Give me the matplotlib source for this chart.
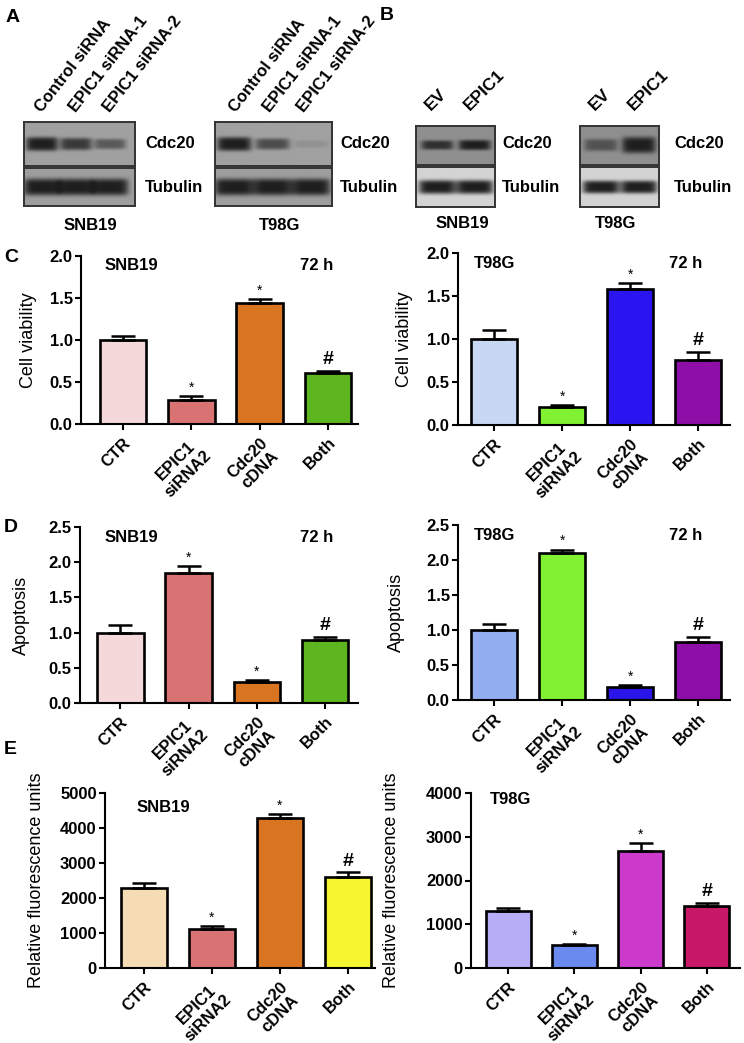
import numpy as np
import matplotlib
matplotlib.use('Agg')
import matplotlib.pyplot as plt

plt.rcParams['font.family'] = ['Liberation Sans', 'DejaVu Sans']

W, H = 744, 1043

# ---- data -------------------------------------------------------------
groups = ['CTR', 'EPIC1\nsiRNA2', 'Cdc20\ncDNA', 'Both']
marks = ['', '*', '*', '#']

via_snb19 = [1.00, 0.29, 1.44, 0.61]
via_snb19_err = [0.05, 0.04, 0.05, 0.02]
via_t98g = [1.00, 0.21, 1.58, 0.75]
via_t98g_err = [0.11, 0.02, 0.07, 0.10]

apo_snb19 = [1.00, 1.85, 0.30, 0.90]
apo_snb19_err = [0.11, 0.09, 0.03, 0.04]
apo_t98g = [1.00, 2.10, 0.18, 0.83]
apo_t98g_err = [0.08, 0.05, 0.03, 0.07]

rfu_snb19 = [2280, 1110, 4290, 2590]
rfu_snb19_err = [150, 90, 100, 140]
rfu_t98g = [1300, 520, 2670, 1420]
rfu_t98g_err = [70, 30, 190, 70]

col_c_snb19 = ['#f5d9da', '#d97272', '#d97420', '#5db51f']
col_c_t98g = ['#c8d8f2', '#80f232', '#2a14f0', '#8e0ea8']
col_d_t98g = ['#94aef2', '#80f232', '#2a14e8', '#8e0ea8']
col_e_snb19 = ['#f5dcb5', '#d97272', '#d97420', '#f5f530']
col_e_t98g = ['#b6aef7', '#6a8af0', '#cc3acc', '#c81868']

# western blot band intensities (relative darkness per lane)
lanes_a = ['Control siRNA', 'EPIC1 siRNA-1', 'EPIC1 siRNA-2']
lanes_b = ['EV', 'EPIC1']
cdc20_a_snb19 = [1.0, 0.8, 0.55]
cdc20_a_t98g = [1.0, 0.65, 0.12]
tub_a = [1.0, 1.0, 1.0]
cdc20_b_snb19 = [0.85, 1.0]
cdc20_b_t98g = [0.55, 1.0]
tub_b = [1.0, 1.0]

fig = plt.figure(figsize=(W / 100, H / 100), dpi=100)


def px_axes(x0, y0, x1, y1):
    return fig.add_axes([x0 / W, 1 - y1 / H, (x1 - x0) / W, (y1 - y0) / H])


def ftext(x, y, s, **kw):
    fig.text(x / W, 1 - y / H, s, **kw)


def draw_blot(box, lane_x, levels, bg, band_h, lane_w):
    x0, y0, x1, y1 = box
    ax = px_axes(x0, y0, x1, y1)
    xx = np.linspace(x0, x1, int(x1 - x0) * 3)
    yy = np.linspace(y0, y1, int(y1 - y0) * 3)
    X, Y = np.meshgrid(xx, yy)
    yc = (y0 + y1) / 2
    dark = np.zeros_like(X)
    for lx, a in zip(lane_x, levels):
        h = band_h * (0.45 + 0.55 * a)
        dark += a * np.exp(-((X - lx) / (lane_w / 2)) ** 6) * np.exp(-((Y - yc) / (h / 2)) ** 4)
    dark = np.clip(dark, 0, 1)
    img = bg - dark * (bg - 0.12)
    ax.imshow(img, cmap='gray', vmin=0, vmax=1, aspect='auto', interpolation='bilinear')
    ax.set_xticks([])
    ax.set_yticks([])
    for s in ax.spines.values():
        s.set_linewidth(1.4)
        s.set_color('#333333')


# ---- panel A / B blots -------------------------------------------------
blot_font = dict(fontsize=12, fontweight='bold', va='center')

draw_blot((24, 122, 135, 166), [42, 76, 110], cdc20_a_snb19, 0.63, 14, 32)
draw_blot((24, 168, 135, 206), [42, 76, 110], tub_a, 0.62, 17, 37)
draw_blot((215, 122, 332, 166), [234, 272, 310], cdc20_a_t98g, 0.63, 14, 34)
draw_blot((215, 168, 332, 206), [234, 272, 310], tub_a, 0.62, 17, 39)
draw_blot((416, 126, 495, 165), [437, 474], cdc20_b_snb19, 0.56, 10, 32)
draw_blot((416, 167, 495, 207), [437, 474], tub_b, 0.83, 14, 37)
draw_blot((580, 126, 659, 165), [601, 639], cdc20_b_t98g, 0.56, 16, 34)
draw_blot((580, 167, 659, 207), [601, 639], tub_b, 0.83, 13, 37)

for bx in [145, 340, 502, 674]:
    ftext(bx, 144, 'Cdc20', **blot_font)
    ftext(bx, 187, 'Tubulin', **blot_font)

lane_font = dict(ha='left', va='bottom', rotation_mode='anchor',
                 fontweight='bold')
for lx, name in zip([44, 78, 112], lanes_a):
    ftext(lx, 115, name, rotation=52, fontsize=12, **lane_font)
for lx, name in zip([238, 272, 306], lanes_a):
    ftext(lx, 115, name, rotation=52, fontsize=12, **lane_font)
for lx, name in zip([433, 472], lanes_b):
    ftext(lx, 113, name, rotation=45, fontsize=12.5, **lane_font)
for lx, name in zip([597, 636], lanes_b):
    ftext(lx, 113, name, rotation=45, fontsize=12.5, **lane_font)

cell_font = dict(fontsize=12, fontweight='bold', ha='center', va='center')
ftext(90, 226, 'SNB19', **cell_font)
ftext(280, 226, 'T98G', **cell_font)
ftext(462, 224, 'SNB19', **cell_font)
ftext(616, 224, 'T98G', **cell_font)

letter_font = dict(fontsize=14, fontweight='bold', ha='left', va='center')
ftext(6, 17, 'A', **letter_font)
ftext(380, 15, 'B', **letter_font)
ftext(4, 258, 'C', **letter_font)
ftext(4, 527, 'D', **letter_font)
ftext(4, 749, 'E', **letter_font)


# ---- bar panels --------------------------------------------------------
def bar_panel(box, xlim, values, errors, colors, yticks, ylabel, ylabel_x,
              cell, cell_xy, time_xy=None, fmt='{:.1f}'):
    ax = px_axes(*box)
    x = np.arange(len(values))
    ax.bar(x, values, width=0.68, color=colors, edgecolor='black',
           linewidth=1.9, zorder=2)
    ax.errorbar(x, values, yerr=[np.zeros(len(values)), errors], fmt='none',
                ecolor='black', elinewidth=1.8, capsize=8.5, capthick=1.8,
                zorder=3)
    for xi, v, e, m in zip(x, values, errors, marks):
        if m == '*':
            ax.annotate(m, (xi, v + e), xytext=(0, 1), textcoords='offset points',
                        ha='center', va='bottom', fontsize=10)
        elif m == '#':
            ax.annotate(m, (xi, v + e), xytext=(0, 2), textcoords='offset points',
                        ha='center', va='bottom', fontsize=14, fontweight='bold')
    ax.set_xlim(*xlim)
    ax.set_ylim(yticks[0], yticks[-1])
    ax.set_yticks(yticks)
    ax.set_yticklabels([fmt.format(t) for t in yticks], fontsize=12,
                       fontweight='bold')
    ax.set_xticks(x)
    ax.set_xticklabels(groups, rotation=45, ha='right', va='top',
                       rotation_mode='anchor', multialignment='center',
                       fontsize=12, fontweight='bold')
    ax.tick_params(axis='both', direction='out', length=4, width=1.5, pad=2)
    ax.tick_params(axis='x', pad=4)
    for s in ['top', 'right']:
        ax.spines[s].set_visible(False)
    for s in ['left', 'bottom']:
        ax.spines[s].set_linewidth(1.5)
    ax.set_ylabel(ylabel, fontsize=13)
    x0, y0, x1, y1 = box
    ax.yaxis.set_label_coords((ylabel_x - x0) / (x1 - x0), 0.5)
    ftext(cell_xy[0], cell_xy[1], cell, fontsize=12, fontweight='bold',
          ha='left', va='center')
    if time_xy is not None:
        ftext(time_xy[0], time_xy[1], '72 h', fontsize=12, fontweight='bold',
              ha='right', va='center')
    return ax


vt = [0, 0.5, 1.0, 1.5, 2.0]
at = [0, 0.5, 1.0, 1.5, 2.0, 2.5]

bar_panel((81, 256, 358, 424), (-0.615, 3.44), via_snb19, via_snb19_err,
          col_c_snb19, vt, 'Cell viability', 37, 'SNB19', (105, 265), (333, 265))
bar_panel((458, 253, 730, 425), (-0.53, 3.47), via_t98g, via_t98g_err,
          col_c_t98g, vt, 'Cell viability', 413, 'T98G', (474, 263), (702, 263))
bar_panel((80, 527, 358, 703), (-0.59, 3.48), apo_snb19, apo_snb19_err,
          col_c_snb19, at, 'Apoptosis', 30, 'SNB19', (105, 537), (333, 537))
bar_panel((458, 525, 730, 700), (-0.53, 3.47), apo_t98g, apo_t98g_err,
          col_d_t98g, at, 'Apoptosis', 405, 'T98G', (474, 535), (702, 535))
bar_panel((105, 793, 375, 968), (-0.57, 3.4), rfu_snb19, rfu_snb19_err,
          col_e_snb19, [0, 1000, 2000, 3000, 4000, 5000],
          'Relative fluorescence units', 45, 'SNB19', (137, 807), fmt='{:d}')
bar_panel((471, 793, 740, 968), (-0.56, 3.5), rfu_t98g, rfu_t98g_err,
          col_e_t98g, [0, 1000, 2000, 3000, 4000],
          'Relative fluorescence units', 400, 'T98G', (490, 799), fmt='{:d}')

fig.savefig('out.png', dpi=100)
